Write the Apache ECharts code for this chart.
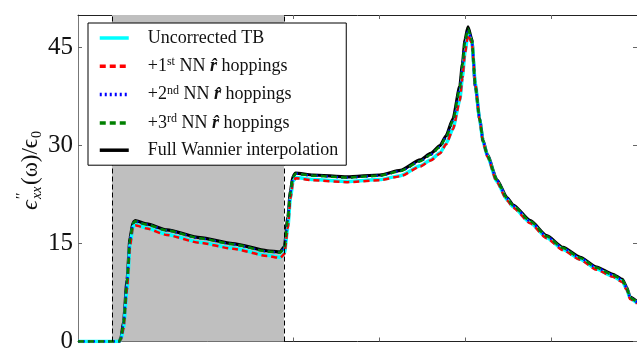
<!DOCTYPE html>
<html>
<head>
<meta charset="utf-8">
<script src="https://cdn.jsdelivr.net/npm/echarts@6/dist/echarts.min.js"></script>
<style>
  html, body { margin: 0; padding: 0; background: #fff; }
  #chart { width: 637px; height: 354px; }
</style>
</head>
<body>
<div id="chart"></div>
<script>
// photon energy grid (shared by all curves)
var energy = [0.5, 0.98, 1.0, 1.03, 1.07, 1.105, 1.14, 1.165, 1.3, 1.535, 1.92, 2.3, 2.7, 2.85, 2.9, 2.94, 2.97, 3.0, 3.03, 3.23,
  3.63, 4.01, 4.25, 4.48, 4.6, 4.71, 4.78, 4.86, 4.94, 4.97, 5.0, 5.035, 5.08, 5.12, 5.17, 5.21, 5.26, 5.37, 5.49, 5.56,
  5.76, 5.95, 6.14, 6.34, 6.53, 6.72, 6.83, 6.88, 6.92, 7.0];

var fullWannier = [0, 0, 0.6, 3.0, 9.4, 15.9, 18.2, 18.5, 18.0, 17.1, 15.9, 15.0, 13.9, 13.7, 14.5, 19.0, 23.0, 25.3, 25.8, 25.5,
  25.2, 25.5, 26.2, 27.8, 28.8, 30.0, 31.5, 34.1, 39.1, 42.5, 46.2, 48.2, 46.2, 39.1, 34.1, 30.8, 28.6, 24.8, 22.0, 20.9,
  18.5, 16.2, 14.4, 12.9, 11.4, 10.3, 9.5, 8.3, 6.8, 6.1];
var uncorrected = [0, 0, 0.3, 2.0, 8.0, 14.8, 17.6, 17.9, 17.4, 16.4, 15.2, 14.3, 13.2, 12.9, 13.5, 17.5, 22.0, 24.5, 25.1, 24.8,
  24.5, 24.8, 25.4, 26.9, 27.8, 28.9, 30.3, 32.6, 37.0, 40.5, 44.3, 47.2, 45.8, 39.6, 34.0, 30.6, 28.4, 24.5, 21.7, 20.6,
  18.2, 15.9, 14.1, 12.6, 11.1, 10.0, 9.2, 8.0, 6.6, 5.9];
var nn1 = [0, 0, 0.3, 2.0, 8.0, 14.7, 17.5, 17.8, 17.3, 16.3, 15.1, 14.2, 13.1, 12.8, 13.4, 17.4, 21.9, 24.4, 25.0, 24.7,
  24.4, 24.7, 25.3, 26.8, 27.7, 28.8, 30.2, 32.5, 36.9, 40.4, 44.2, 47.0, 45.7, 39.5, 33.9, 30.5, 28.3, 24.4, 21.6, 20.5,
  18.1, 15.8, 14.0, 12.5, 11.0, 9.9, 9.1, 7.9, 6.5, 5.8];
var nn2 = [0, 0, 0.5, 2.8, 9.2, 15.7, 18.1, 18.4, 17.9, 17.0, 15.8, 14.9, 13.8, 13.6, 14.4, 18.8, 22.8, 25.2, 25.7, 25.4,
  25.1, 25.4, 26.1, 27.6, 28.6, 29.8, 31.3, 33.8, 38.7, 42.2, 45.8, 47.8, 46.1, 39.2, 34.1, 30.7, 28.5, 24.7, 21.9, 20.8,
  18.4, 16.1, 14.3, 12.8, 11.3, 10.2, 9.4, 8.2, 6.7, 6.0];
var nn3 = [0, 0, 0.5, 2.8, 9.2, 15.7, 18.1, 18.4, 17.9, 17.0, 15.8, 14.9, 13.8, 13.6, 14.4, 18.8, 22.8, 25.2, 25.7, 25.4,
  25.1, 25.4, 26.1, 27.6, 28.6, 29.8, 31.3, 33.8, 38.8, 42.3, 45.9, 47.9, 46.1, 39.2, 34.1, 30.7, 28.5, 24.7, 21.9, 20.8,
  18.4, 16.1, 14.3, 12.8, 11.3, 10.2, 9.4, 8.2, 6.7, 6.0];

// shaded window
var bandStart = 0.895;
var bandEnd = 2.895;

var xTicks = [1, 2, 3, 4, 5, 6, 7];
var yTicks = [0, 15, 30, 45];

var names = ['Uncorrected TB', '+1st NN r hoppings', '+2nd NN r hoppings', '+3rd NN r hoppings', 'Full Wannier interpolation'];
var legendRich = {
  'Uncorrected TB': '{a|Uncorrected TB}',
  '+1st NN r hoppings': '{a|+1}{s|st}{a| NN }{r|r̂}{a| hoppings}',
  '+2nd NN r hoppings': '{a|+2}{s|nd}{a| NN }{r|r̂}{a| hoppings}',
  '+3rd NN r hoppings': '{a|+3}{s|rd}{a| NN }{r|r̂}{a| hoppings}',
  'Full Wannier interpolation': '{a|Full Wannier interpolation}'
};

function pairs(ys) {
  return energy.map(function (x, i) { return [x, ys[i]]; });
}

var serif = 'Liberation Serif';
var chart = echarts.init(document.getElementById('chart'));

function lineSeries(name, ys, color, width, type) {
  return {
    name: name,
    type: 'line',
    data: pairs(ys),
    symbol: 'none',
    smooth: 0.2,
    smoothMonotone: 'x',
    animation: false,
    lineStyle: { color: color, width: width, type: type },
    itemStyle: { color: color }
  };
}

// pieces of the rotated y title: eps''_xx(omega)/eps_0
function titlePiece(text, x, y, size, italic) {
  return {
    type: 'text',
    x: x,
    y: y,
    style: {
      text: text,
      fontFamily: serif,
      fontSize: size,
      fontStyle: italic ? 'italic' : 'normal',
      fill: '#111',
      align: 'left',
      verticalAlign: 'middle'
    }
  };
}

var black = lineSeries(names[4], fullWannier, '#000000', 3.2, 'solid');
black.markArea = {
  silent: true,
  itemStyle: { color: '#bfbfbf' },
  data: [[{ xAxis: bandStart }, { xAxis: bandEnd }]]
};
black.markLine = {
  silent: true,
  symbol: 'none',
  label: { show: false },
  lineStyle: { color: '#000', width: 1, type: [5, 3] },
  data: [{ xAxis: bandStart }, { xAxis: bandEnd }]
};

chart.setOption({
  animation: false,
  grid: { left: 78, right: 0, top: 15, bottom: 9 },
  legend: {
    orient: 'vertical',
    left: 88,
    top: 23,
    data: names,
    itemWidth: 29,
    itemHeight: 14,
    itemGap: 9.3,
    padding: [6, 8, 6, 10],
    backgroundColor: '#fff',
    borderColor: '#000',
    borderWidth: 1,
    borderRadius: 0,
    z: 10,
    itemStyle: { color: 'transparent', borderColor: 'transparent', borderWidth: 0, opacity: 0 },
    lineStyle: { width: 3.5 },
    formatter: function (n) { return legendRich[n]; },
    textStyle: {
      padding: [0, 0, 0, 14],
      rich: {
        a: { fontFamily: serif, fontSize: 18, color: '#111', lineHeight: 20 },
        s: { fontFamily: serif, fontSize: 12, color: '#111', lineHeight: 12, verticalAlign: 'top' },
        r: { fontFamily: serif, fontSize: 18, color: '#111', lineHeight: 20, fontWeight: 'bold', fontStyle: 'italic' }
      }
    }
  },
  graphic: [{
    type: 'group',
    x: 31,
    y: 168,
    rotation: Math.PI / 2,
    silent: true,
    children: [
      titlePiece('ϵ', -42, 0, 24, true),
      titlePiece('′′', -31, -9, 15, false),
      titlePiece('xx', -31, 6, 14, true),
      titlePiece('(ω)/ϵ', -17, 0, 23, false),
      titlePiece('0', 30, 6, 14, false)
    ]
  }],
  xAxis: [{
    type: 'value',
    min: 0.5,
    max: 7,
    axisLine: { show: true, onZero: false, lineStyle: { color: '#222', width: 1 } },
    axisTick: { show: true, inside: true, length: 4, customValues: xTicks, lineStyle: { color: '#666' } },
    axisLabel: { show: false },
    splitLine: { show: false }
  }, {
    type: 'value',
    position: 'top',
    min: 0.5,
    max: 7,
    axisLine: { show: true, onZero: false, lineStyle: { color: '#222', width: 1 } },
    axisTick: { show: true, inside: true, length: 4, customValues: xTicks, lineStyle: { color: '#666' } },
    axisLabel: { show: false },
    splitLine: { show: false }
  }],
  yAxis: [{
    type: 'value',
    min: 0,
    max: 50,
    axisLine: { show: true, lineStyle: { color: '#777', width: 1 } },
    axisTick: { show: true, inside: true, length: 4, customValues: yTicks, lineStyle: { color: '#666' } },
    axisLabel: { customValues: yTicks, fontFamily: serif, fontSize: 25, color: '#111', margin: 5 },
    splitLine: { show: false }
  }, {
    type: 'value',
    position: 'right',
    min: 0,
    max: 50,
    axisLine: { show: true, lineStyle: { color: '#222', width: 1 } },
    axisTick: { show: true, inside: true, length: 4, customValues: yTicks, lineStyle: { color: '#666' } },
    axisLabel: { show: false },
    splitLine: { show: false }
  }],
  series: [
    black,
    lineSeries(names[0], uncorrected, '#00ffff', 3.5, 'solid'),
    lineSeries(names[1], nn1, '#ff0000', 2.5, [6, 4]),
    lineSeries(names[2], nn2, '#0000ff', 2.5, [2, 3]),
    lineSeries(names[3], nn3, '#008000', 2.5, [6, 4])
  ]
});
</script>
</body>
</html>
